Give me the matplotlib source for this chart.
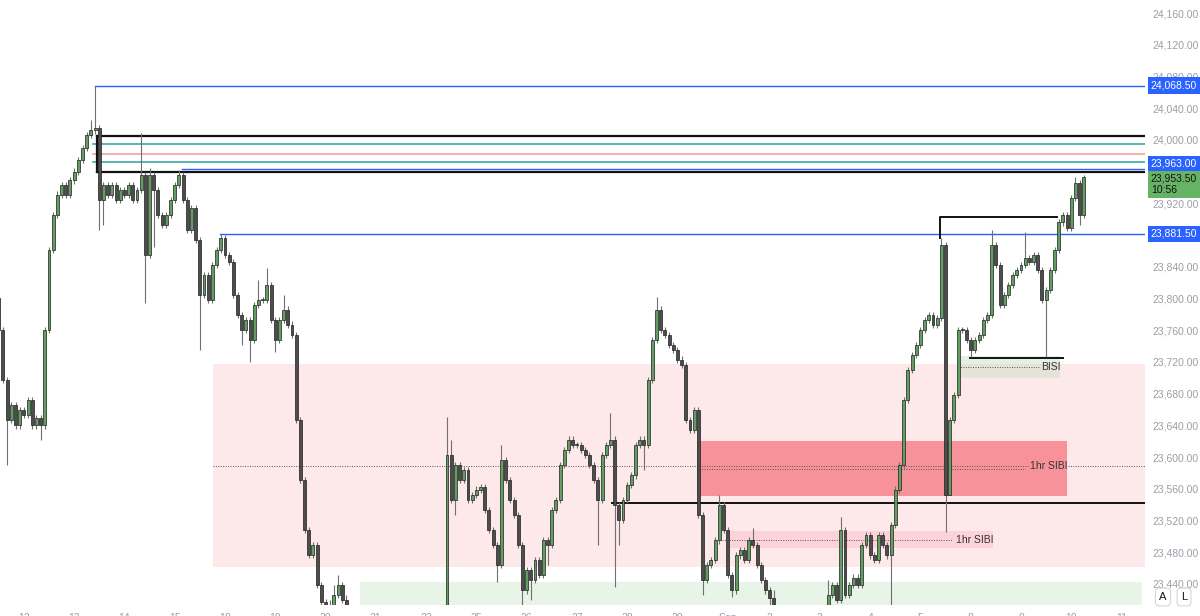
import matplotlib
matplotlib.use("Agg")
import matplotlib.pyplot as plt
import numpy as np
from matplotlib.patches import Rectangle

# ---- price data (open = previous close) ----
first_open = 23800
closes = [
    # Aug 11 (tail)
    23760, 23697, 23647, 23666, 23640, 23659,
    # Aug 12
    23653, 23672, 23640, 23649, 23640, 23760, 23861, 23905, 23931, 23943, 23931, 23949,
    # Aug 13
    23960, 23975, 23990, 24006, 24012, 24015, 23924, 23943, 23931, 23943, 23924, 23937,
    # Aug 14
    23931, 23943, 23924, 23937, 23956, 23855, 23956, 23937, 23905, 23893, 23905, 23924,
    # Aug 15
    23943, 23956, 23924, 23886, 23914, 23874, 23804, 23830, 23798, 23842, 23861, 23876,
    # Aug 18
    23855, 23846, 23804, 23779, 23760, 23773, 23748, 23792, 23798, 23798, 23817, 23773,
    # Aug 19
    23748, 23773, 23786, 23767, 23754, 23647, 23571, 23508, 23477, 23489, 23439, 23417,
    # Aug 20
    23395, 23405, 23426, 23439, 23420, 23400, 23385, 23370, 23360, 23340, 23355, 23330,
    # Aug 21
    23320, 23300, 23280, 23310, 23290, 23270, 23260, 23290, 23280, 23300, 23310, 23290,
    # Aug 22
    23300, 23280, 23310, 23290, 23330, 23603, 23546, 23590, 23571, 23584, 23546, 23552,
    # Aug 25
    23559, 23562, 23533, 23508, 23489, 23464, 23596, 23571, 23546, 23527, 23489, 23432,
    # Aug 26
    23458, 23445, 23470, 23451, 23495, 23489, 23533, 23546, 23590, 23609, 23622, 23615,
    # Aug 27
    23615, 23609, 23603, 23590, 23571, 23546, 23603, 23615, 23622, 23539, 23521, 23546,
    # Aug 28
    23565, 23577, 23615, 23622, 23615, 23697, 23748, 23786, 23760, 23754, 23741, 23735,
    # Aug 29
    23723, 23716, 23647, 23634, 23659, 23527, 23445, 23464, 23470, 23495, 23539, 23508,
    # Sep 1 (short session)
    23451, 23432, 23476, 23483, 23470, 23495, 23489, 23464, 23445, 23432,
    # Sep 2
    23422, 23405, 23380, 23350, 23330, 23300, 23320, 23280, 23300, 23340, 23320, 23350,
    # Sep 3
    23370, 23395, 23426, 23439, 23420, 23508, 23426, 23439, 23448, 23439, 23489, 23502,
    # Sep 4
    23476, 23470, 23502, 23489, 23476, 23514, 23559, 23590, 23672, 23710, 23729, 23741,
    # Sep 5
    23760, 23773, 23779, 23767, 23775, 23867, 23552, 23647, 23678, 23760, 23760, 23748,
    # Sep 8
    23735, 23748, 23754, 23773, 23779, 23867, 23842, 23792, 23804, 23817, 23830, 23836,
    # Sep 9
    23842, 23851, 23846, 23855, 23836, 23798, 23811, 23836, 23861, 23896, 23905, 23889,
    # Sep 10
    23927, 23946, 23905, 23953.5,
]

# long wicks (bar index -> price)
wick_high = {0: 23802, 22: 24025, 23: 24068.5, 34: 24009, 36: 23965, 43: 23962,
             53: 23881.5, 62: 23823, 64: 23838, 68: 23804, 79: 23420, 80: 23439,
             81: 23451, 83: 23426, 107: 23651, 108: 23622, 120: 23615, 146: 23656,
             157: 23802, 172: 23552, 180: 23510, 185: 23432, 198: 23445, 201: 23524,
             225: 23876, 237: 23886, 245: 23884, 257: 23953, 259: 23956}
wick_low = {2: 23590, 10: 23622, 24: 23886, 25: 23893, 35: 23794, 37: 23865,
            48: 23735, 58: 23741, 60: 23720, 66: 23732, 78: 23380, 109: 23527,
            119: 23442, 125: 23405, 127: 23420, 131: 23464, 143: 23489, 147: 23436,
            148: 23489, 154: 23584, 168: 23426, 175: 23423, 184: 23405, 213: 23400,
            226: 23506, 227: 23590, 232: 23726, 250: 23726, 258: 23893}

day_labels = ['12', '13', '14', '15', '18', '19', '20', '21', '22', '25', '26', '27',
              '28', '29', 'Sep', '2', '3', '4', '5', '8', '9', '10', '11']
session_bars = [6] + [12] * 14 + [10] + [12] * 7

# 23,960 and 23,880 sit fully behind the price tags
price_ticks = [v for v in range(23440, 24161, 40) if v not in (23960, 23880)]

last_price = 23953.5
last_time = '10:56'

XMIN, XMAX = 0.3, 273.6
YMIN, YMAX = 23413.5, 24176.4

plt.rcParams['font.family'] = ['Liberation Sans', 'DejaVu Sans']

fig = plt.figure(figsize=(12, 6.16), dpi=100)
fig.patch.set_facecolor('white')
ax = fig.add_axes([0, 11 / 616, 1145 / 1200, 605 / 616])
ax.set_xlim(XMIN, XMAX)
ax.set_ylim(YMIN, YMAX)

# ---- zones ----
ax.add_patch(Rectangle((51.1, 23461), XMAX - 51.1, 23717 - 23461, fc='#fde8ea', ec='none', zorder=0))
ax.add_patch(Rectangle((86.2, YMIN - 50), 272.9 - 86.2, 23442 - YMIN + 50, fc='#e7f4e7', ec='none', zorder=0))
ax.add_patch(Rectangle((166.6, 23551), 254.9 - 166.6, 23620 - 23551, fc='#f7929b', ec='none', zorder=1))
ax.add_patch(Rectangle((173.8, 23485), 237.3 - 173.8, 23507 - 23485, fc='#fbd3d8', ec='none', zorder=1))
ax.add_patch(Rectangle((228.9, 23700), 253.3 - 228.9, 23727.5 - 23700, fc='#c9dcc3', ec='none', alpha=0.45, zorder=1))

dot = dict(color='#555555', lw=0.7, ls=(0, (1, 1.5)), zorder=2)
ax.plot([51.1, 245.6], [23589, 23589], **dot)
ax.plot([255.2, XMAX], [23589, 23589], **dot)
ax.plot([166.6, 245.0], [23585.5, 23585.5], **dot)
ax.plot([172.6, 227.5], [23496, 23496], **dot)
ax.plot([228.9, 248.3], [23714, 23714], **dot)
ax.text(250.6, 23589, '1hr SIBI', ha='center', va='center', fontsize=7.5, color='#333333', zorder=6)
ax.text(228.4, 23496, '1hr SIBI', ha='left', va='center', fontsize=7.5, color='#333333', zorder=6)
ax.text(248.8, 23714, 'BISI', ha='left', va='center', fontsize=7.5, color='#333333', zorder=6)

# ---- levels ----
ax.plot([23, XMAX], [24068.5, 24068.5], color='#2962ff', lw=1.0, zorder=2)
ax.plot([22.6, XMAX], [23994.5, 23994.5], color='#26a69a', lw=1.1, zorder=2)
ax.plot([22.6, XMAX], [23982.5, 23982.5], color='#ef9a9a', lw=1.1, zorder=2)
ax.plot([22.6, XMAX], [23972, 23972], color='#26a69a', lw=1.1, zorder=2)
ax.plot([43.7, XMAX], [23963, 23963], color='#2962ff', lw=1.0, zorder=2)
ax.plot([23.4, XMAX], [24005, 24005], color='#111111', lw=1.6, zorder=2)
ax.plot([23.4, XMAX], [23959, 23959], color='#111111', lw=1.6, zorder=2)
ax.plot([23.4, 23.4], [23959, 24005], color='#111111', lw=1.6, zorder=2)
ax.plot([52.8, XMAX], [23881.5, 23881.5], color='#2962ff', lw=1.0, zorder=2)
ax.plot([146.4, XMAX], [23542.5, 23542.5], color='#111111', lw=1.4, zorder=2)
ax.plot([224.6, 224.6, 252.6], [23876, 23903, 23903], color='#111111', lw=1.4, zorder=2)
ax.plot([231.8, 254.0], [23725, 23725], color='#111111', lw=1.4, zorder=2)

# ---- candles ----
opens = [first_open] + closes[:-1]
x = np.arange(len(closes))
highs, lows, bottoms, heights, faces = [], [], [], [], []
for i, (o, c) in enumerate(zip(opens, closes)):
    top, bot = max(o, c), min(o, c)
    highs.append(max(wick_high.get(i, top + 4), top))
    lows.append(min(wick_low.get(i, bot - 4), bot))
    bottoms.append(bot)
    heights.append(max(top - bot, 1.0))
    faces.append('#5f9f5f' if c >= o else '#4d4d4d')
ax.vlines(x, lows, highs, color='#707070', lw=0.8, zorder=3)
ax.bar(x, heights, bottom=bottoms, width=0.7, color=faces, edgecolor='#1f1f1f', linewidth=0.5, zorder=4)

# ---- axes ----
for s in ax.spines.values():
    s.set_visible(False)
ax.set_xticks(np.cumsum(session_bars))
ax.set_xticklabels(day_labels)
ax.yaxis.tick_right()
ax.set_yticks(price_ticks)
ax.set_yticklabels([f'{v:,.2f}' for v in price_ticks])
ax.tick_params(axis='y', length=0, pad=5, labelsize=7.5, labelcolor='#9b9ea6')
ax.tick_params(axis='x', length=0, pad=6, labelsize=7.5, labelcolor='#9b9ea6')

yt = ax.get_yaxis_transform()
box = dict(ha='left', va='center', fontsize=7.5, transform=yt, clip_on=False, zorder=10)
ax.text(1.005, 24068.5, '24,068.50', color='white',
        bbox=dict(boxstyle='square,pad=0.3', fc='#2962ff', ec='none'), **box)
ax.text(1.005, 23970, '23,963.00', color='white',
        bbox=dict(boxstyle='square,pad=0.3', fc='#2962ff', ec='none'), **box)
ax.text(1.005, 23881.5, '23,881.50', color='white',
        bbox=dict(boxstyle='square,pad=0.3', fc='#2962ff', ec='none'), **box)
ax.text(1.005, 23944, f'{last_price:,.2f}\n{last_time}', color='#111111', linespacing=1.1,
        bbox=dict(boxstyle='square,pad=0.3', fc='#66b366', ec='none'), **box)

btn = dict(boxstyle='round,pad=0.35', fc='white', ec='#d6d6d6', lw=0.8)
fig.text(1163 / 1200, 1 - 597 / 616, 'A', ha='center', va='center', fontsize=8, color='#131722', bbox=btn)
fig.text(1184 / 1200, 1 - 597 / 616, 'L', ha='center', va='center', fontsize=8, color='#131722', bbox=btn)

fig.savefig('out.png', dpi=100, facecolor='white')
